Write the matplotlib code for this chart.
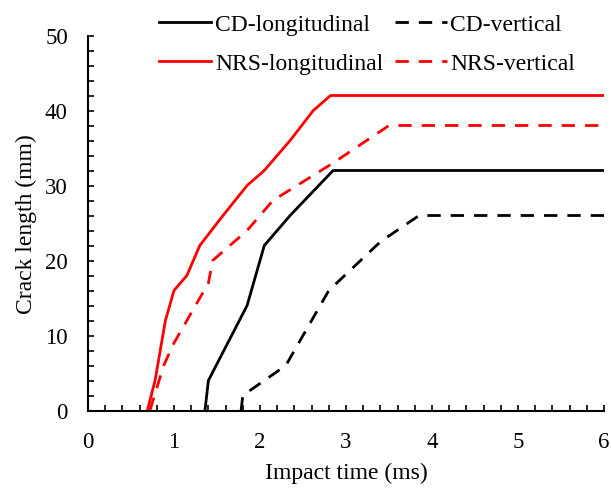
import matplotlib.pyplot as plt
import matplotlib.ticker as tck

plt.rcParams['font.family'] = ['Liberation Serif', 'DejaVu Serif']

# crack length (mm) vs impact time (ms)
cd_long_t = [1.36, 1.40, 1.85, 2.05, 2.35, 2.85, 6.0]
cd_long_v = [0, 4, 14, 22, 26, 32, 32]

cd_vert_t = [1.78, 1.80, 2.30, 2.80, 3.40, 3.85, 6.0]
cd_vert_v = [0, 2, 6, 16, 22.5, 26, 26]

nrs_long_t = [0.69, 0.78, 0.90, 1.00, 1.15, 1.30, 1.57, 1.85, 2.05, 2.35, 2.62, 2.82, 6.0]
nrs_long_v = [0, 4, 12, 16, 18, 22, 26, 30, 32, 36, 40, 42, 42]

nrs_vert_t = [0.72, 0.88, 1.00, 1.40, 1.45, 1.85, 2.15, 2.85, 3.50, 6.0]
nrs_vert_v = [0, 6, 9, 17, 20, 24, 28, 33, 38, 38]

fig = plt.figure(figsize=(6.11, 4.89), dpi=100)
ax = fig.add_axes([88/611, 1 - 411.5/489, 516/611, 375/489])

lw = 2.0
dash = (0, (4.8, 3.6))
ax.plot(cd_long_t, cd_long_v, color='black', lw=lw, label='CD-longitudinal')
ax.plot(cd_vert_t, cd_vert_v, color='black', lw=lw, ls=dash, label='CD-vertical')
ax.plot(nrs_long_t, nrs_long_v, color='red', lw=lw, label='NRS-longitudinal')
ax.plot(nrs_vert_t, nrs_vert_v, color='red', lw=lw, ls=dash, label='NRS-vertical')

ax.set_xlim(0, 6)
ax.set_ylim(0, 50)
ax.set_xticks(range(0, 7))
ax.set_yticks(range(0, 51, 10))
ax.xaxis.set_minor_locator(tck.MultipleLocator(0.2))
ax.yaxis.set_minor_locator(tck.MultipleLocator(2))
ax.tick_params(which='both', direction='in', length=4, width=1.2, labelsize=16.5)
ax.tick_params(axis='x', pad=15)
ax.tick_params(axis='y', pad=14.5)

for s in ['top', 'right']:
    ax.spines[s].set_visible(False)
for s in ['left', 'bottom']:
    ax.spines[s].set_linewidth(1.5)

ax.set_xlabel('Impact time (ms)', fontsize=17, labelpad=7)
ax.set_ylabel('Crack length (mm)', fontsize=17, labelpad=6)

handles, labels = ax.get_legend_handles_labels()
order = [0, 2, 1, 3]
fig.legend([handles[i] for i in order], [labels[i] for i in order],
           ncol=2, loc='upper left', bbox_to_anchor=(150/611, 1 - 5/489),
           frameon=False, fontsize=17, handlelength=2.2, handletextpad=0.15,
           columnspacing=0.5, labelspacing=0.75, borderaxespad=0.0)

fig.savefig('out.png', dpi=100)
